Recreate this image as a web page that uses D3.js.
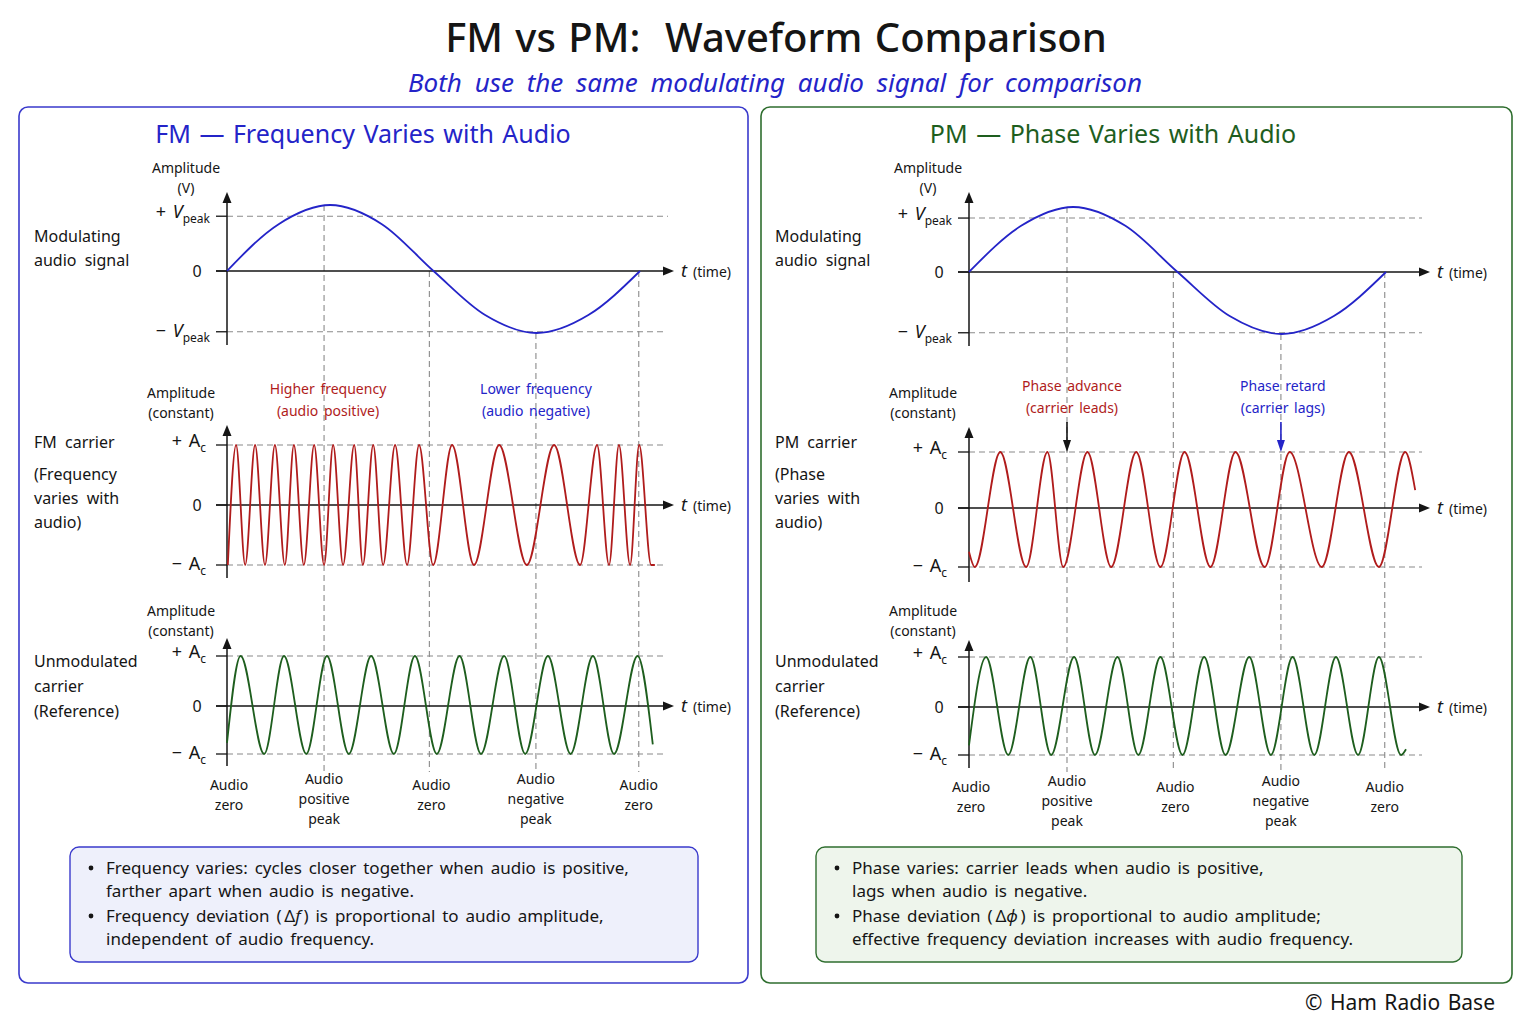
<!DOCTYPE html>
<html>
<head>
<meta charset="utf-8">
<script src="https://cdn.jsdelivr.net/npm/d3@7"></script>
<style>
  body { margin: 0; background: #fff; }
  svg { font-family: "Noto Sans", "Open Sans", sans-serif; word-spacing: 2px; }
</style>
</head>
<body>
<svg id="chart" width="1536" height="1024"></svg>
<script>
// ---- data (time in audio periods, values in units of peak amplitude) ----
const audioT = [0, 0.125, 0.25, 0.375, 0.5, 0.625, 0.75, 0.875, 1];
const audioV = [0, 0.71, 1, 0.71, 0, -0.71, -1, -0.71, 0];
const peakGuides = [0.83, -0.98];

const markerT = [0.235, 0.49, 0.748, 0.997];
const markerV = [1, 0, -1, 0];
const bottomT = [0.005, 0.235, 0.495, 0.748, 0.997];
const bottomLabels = [
  ['Audio', 'zero'], ['Audio', 'positive', 'peak'], ['Audio', 'zero'],
  ['Audio', 'negative', 'peak'], ['Audio', 'zero']
];

// FM carrier extrema
const fmCarrierT = [0.002, 0.022, 0.044, 0.068, 0.092, 0.116, 0.140, 0.162, 0.186, 0.211,
  0.235, 0.257, 0.281, 0.308, 0.329, 0.354, 0.378, 0.407, 0.436, 0.465,
  0.499, 0.545, 0.598, 0.659, 0.726, 0.792, 0.855, 0.896, 0.925, 0.949,
  0.976, 0.998, 1.027, 1.036];
const fmCarrierV = [-1, 1, -1, 1, -1, 1, -1, 1, -1, 1,
  -1, 1, -1, 1, -1, 1, -1, 1, -1, 1,
  -1, 1, -1, 1, -1, 1, -1, 1, -1, 1,
  -1, 1, -1, -1];

const fmRefT = [0, 0.033, 0.090, 0.138, 0.192, 0.242, 0.295, 0.349, 0.404, 0.455, 0.508,
  0.563, 0.615, 0.671, 0.722, 0.777, 0.832, 0.886, 0.937, 0.994, 1.031];
const fmRefV = [-0.77, 1, -1, 1, -1, 1, -1, 1, -1, 1, -1,
  1, -1, 1, -1, 1, -1, 1, -1, 1, -0.8];

// PM carrier extrema
const pmCarrierT = [0, 0.014, 0.075, 0.137, 0.188, 0.226, 0.284, 0.341, 0.401, 0.459,
  0.517, 0.579, 0.639, 0.709, 0.769, 0.846, 0.911, 0.983, 1.046, 1.070];
const pmCarrierV = [-0.74, -1, 1, -1, 1, -1, 1, -1, 1, -1,
  1, -1, 1, -1, 1, -1, 1, -1, 1, 0.32];

const pmRefT = [0, 0.041, 0.094, 0.147, 0.197, 0.252, 0.302, 0.356, 0.406, 0.459, 0.512,
  0.564, 0.615, 0.672, 0.724, 0.776, 0.828, 0.880, 0.933, 0.983, 1.036, 1.048];
const pmRefV = [-0.8, 1, -1, 1, -1, 1, -1, 1, -1, 1, -1,
  1, -1, 1, -1, 1, -1, 1, -1, 1, -1, -0.88];

// bullet notes: [before symbol, symbol, after symbol] per line; plain lines are strings
const fmNotes = [
  ['Frequency varies: cycles closer together when audio is positive,', 'farther apart when audio is negative.'],
  [['Frequency deviation (\u2009\u0394', 'f', '\u2009) is proportional to audio amplitude,'], 'independent of audio frequency.']
];
const pmNotes = [
  ['Phase varies: carrier leads when audio is positive,', 'lags when audio is negative.'],
  [['Phase deviation (\u2009\u0394', '\u03d5', '\u2009) is proportional to audio amplitude;'], 'effective frequency deviation increases with audio frequency.']
];

// ---- colours ----
const BLUE = '#2424c8', RED = '#b01c1c', GREEN = '#1e5e1e', INK = '#151515', GUIDE = '#8a8a8a';

const svg = d3.select('#chart');

svg.append('text').attr('x', 776).attr('y', 52).attr('text-anchor', 'middle')
  .attr('font-size', 40).attr('fill', INK).attr('font-weight', 500)
  .text('FM vs PM:\u00a0 Waveform Comparison');
svg.append('text').attr('x', 775).attr('y', 92).attr('text-anchor', 'middle')
  .attr('font-size', 26).attr('font-style', 'italic').attr('fill', BLUE).attr('word-spacing', 6)
  .text('Both use the same modulating audio signal for comparison');
svg.append('text').attr('x', 1495).attr('y', 1010).attr('text-anchor', 'end')
  .attr('font-size', 21).attr('fill', INK).text('\u00a9 Ham Radio Base');

const line = (x, y) => d3.line().x(d => x(d[0])).y(d => y(d[1])).curve(d3.curveMonotoneX);

function tickLabel(g, x, y, sign, letter, sub, italic) {
  const t = g.append('text').attr('x', x).attr('y', y + 6).attr('text-anchor', 'end')
    .attr('font-size', 18).attr('fill', INK);
  t.append('tspan').text(sign + '\u00a0');
  t.append('tspan').attr('font-style', italic ? 'italic' : 'normal').text(letter);
  t.append('tspan').attr('font-size', 12).attr('dy', 5).text(sub);
}

function drawPanel(p) {
  const g = svg.append('g');
  g.append('rect').attr('x', p.left).attr('y', 107).attr('width', p.right - p.left).attr('height', 876)
    .attr('rx', 9).attr('fill', '#fff').attr('stroke', p.border).attr('stroke-width', 1.6);
  g.append('text').attr('x', p.titleX).attr('y', 143).attr('text-anchor', 'middle')
    .attr('font-size', 25).attr('fill', p.titleColor).text(p.title);

  const x = d3.scaleLinear().domain([0, 1]).range([p.x0, p.x1]);

  // vertical markers
  const yTop = d3.scaleLinear().domain([-1, 0, 1]).range(p.rows[0].yr);
  g.selectAll('.marker').data(markerT).join('line')
    .attr('x1', d => x(d)).attr('x2', d => x(d))
    .attr('y1', (d, i) => yTop(markerV[i])).attr('y2', 772)
    .attr('stroke', GUIDE).attr('stroke-width', 1.1).attr('stroke-dasharray', '6,4');

  p.rows.forEach(r => {
    const y = d3.scaleLinear().domain([-1, 0, 1]).range(r.yr);
    const levels = r.guides;
    // guides
    g.selectAll(null).data(levels).join('line')
      .attr('x1', p.x0).attr('x2', (d, i) => i === 0 ? r.guideEnd0 || p.guideEnd : p.guideEnd)
      .attr('y1', d => y(d)).attr('y2', d => y(d))
      .attr('stroke', GUIDE).attr('stroke-width', 1.1).attr('stroke-dasharray', '6,4');
    // ticks
    [levels[0], 0, levels[1]].forEach(v => {
      g.append('line').attr('x1', p.x0 - 11).attr('x2', p.x0).attr('y1', y(v)).attr('y2', y(v))
        .attr('stroke', INK).attr('stroke-width', 1.3);
    });
    // x axis with arrow
    const y0 = y(0);
    g.append('line').attr('x1', p.x0 - 11).attr('x2', p.axisEnd - 8).attr('y1', y0).attr('y2', y0)
      .attr('stroke', INK).attr('stroke-width', 1.5);
    g.append('path').attr('d', `M${p.axisEnd},${y0}L${p.axisEnd - 11},${y0 - 4.5}L${p.axisEnd - 11},${y0 + 4.5}Z`)
      .attr('fill', INK);
    const tl = g.append('text').attr('x', p.axisEnd + 7).attr('y', y0 + 6).attr('fill', INK);
    tl.append('tspan').attr('font-size', 18).attr('font-style', 'italic').text('t');
    tl.append('tspan').attr('font-size', 14).attr('dx', 6).text('(time)');
    // y axis with arrow
    g.append('line').attr('x1', p.x0).attr('x2', p.x0).attr('y1', r.axisBottom).attr('y2', r.axisTop + 8)
      .attr('stroke', INK).attr('stroke-width', 1.5);
    g.append('path').attr('d', `M${p.x0},${r.axisTop}L${p.x0 - 4.5},${r.axisTop + 11}L${p.x0 + 4.5},${r.axisTop + 11}Z`)
      .attr('fill', INK);
    // amplitude label
    r.ampLabel.forEach((s, i) => {
      g.append('text').attr('x', p.x0 + r.ampDx).attr('y', r.ampY + i * 20).attr('text-anchor', 'middle')
        .attr('font-size', 14).attr('fill', INK).text(s);
    });
    tickLabel(g, p.x0 + r.tickDx, y(levels[0]) - 4, '+', r.letter, r.sub, r.italic);
    g.append('text').attr('x', p.x0 - 30).attr('y', y0 + 6).attr('text-anchor', 'middle')
      .attr('font-size', 16).attr('fill', INK).text('0');
    tickLabel(g, p.x0 + r.tickDx, y(levels[1]) - 1, '\u2212', r.letter, r.sub, r.italic);
    // row labels
    r.rowLabel.forEach((s, i) => {
      g.append('text').attr('x', p.rowLabelX).attr('y', r.rowY[i] + 6).attr('word-spacing', 4)
        .attr('font-size', 16).attr('fill', INK).text(s);
    });
    // waveform
    g.append('path').datum(d3.zip(r.t, r.v)).attr('d', line(x, y))
      .attr('fill', 'none').attr('stroke', r.color).attr('stroke-width', 1.8);
  });

  // bottom labels
  bottomT.forEach((t, i) => {
    const lines = bottomLabels[i];
    const base = lines.length === 3 ? 784 : 790;
    lines.forEach((s, j) => {
      g.append('text').attr('x', x(t)).attr('y', base + p.bottomDy + j * 20).attr('text-anchor', 'middle')
        .attr('font-size', 14).attr('fill', INK).text(s);
    });
  });

  // annotations
  p.notes2.forEach(a => {
    a.text.forEach((s, j) => {
      g.append('text').attr('x', x(a.t) + a.dx).attr('y', a.y + j * 22).attr('text-anchor', 'middle')
        .attr('font-size', 14).attr('fill', a.color).text(s);
    });
    if (a.arrow) {
      const ax = x(a.arrowT);
      g.append('line').attr('x1', ax).attr('x2', ax).attr('y1', 422).attr('y2', 442)
        .attr('stroke', a.arrow).attr('stroke-width', 1.6);
      g.append('path').attr('d', `M${ax},${452}L${ax - 4},${440}L${ax + 4},${440}Z`).attr('fill', a.arrow);
    }
  });

  // notes box
  const b = p.box;
  g.append('rect').attr('x', b.x).attr('y', 847).attr('width', b.w).attr('height', 115).attr('rx', 9)
    .attr('fill', b.fill).attr('stroke', p.border).attr('stroke-width', 1.4);
  p.bullets.forEach((item, i) => {
    const yb = 874 + i * 48;
    g.append('circle').attr('cx', b.x + 21).attr('cy', yb - 6).attr('r', 2.4).attr('fill', INK);
    item.forEach((s, j) => {
      const t = g.append('text').attr('x', b.x + 36).attr('y', yb + j * 23).attr('font-size', 17)
        .attr('fill', INK).attr('word-spacing', 2.5);
      if (Array.isArray(s)) {
        t.append('tspan').text(s[0]);
        t.append('tspan').attr('font-style', 'italic').text(s[1]);
        t.append('tspan').text(s[2]);
      } else {
        t.text(s);
      }
    });
  });
}

const topRow = (yr, axisTop, axisBottom, t, v) => ({
  yr, axisTop, axisBottom, t, v, color: BLUE, guides: peakGuides,
  letter: 'V', sub: 'peak', italic: true, tickDx: -17, ampDx: -41, ampY: 173,
  ampLabel: ['Amplitude', '(V)'], rowLabel: ['Modulating', 'audio signal'], rowY: [236, 260]
});

drawPanel({
  left: 19, right: 748, x0: 227, x1: 640, axisEnd: 674, guideEnd: 664,
  border: '#3a3acc', title: 'FM \u2014 Frequency Varies with Audio', titleX: 363, titleColor: BLUE,
  rowLabelX: 34, bottomDy: 0,
  rows: [
    Object.assign(topRow([333, 271, 205], 192, 345, audioT, audioV), { guideEnd0: 668 }),
    { yr: [565, 505, 445], axisTop: 425, axisBottom: 578, t: fmCarrierT, v: fmCarrierV, color: RED,
      guides: [1, -1], letter: 'A', sub: 'c', italic: false, tickDx: -21, ampDx: -46, ampY: 398,
      ampLabel: ['Amplitude', '(constant)'],
      rowLabel: ['FM carrier', '(Frequency', 'varies with', 'audio)'], rowY: [442, 474, 498, 522] },
    { yr: [754, 706, 656], axisTop: 638, axisBottom: 766, t: fmRefT, v: fmRefV, color: GREEN,
      guides: [1, -1], letter: 'A', sub: 'c', italic: false, tickDx: -21, ampDx: -46, ampY: 616,
      ampLabel: ['Amplitude', '(constant)'],
      rowLabel: ['Unmodulated', 'carrier', '(Reference)'], rowY: [661, 686, 711] }
  ],
  notes2: [
    { t: markerT[0], dx: 4, y: 394, color: RED, text: ['Higher frequency', '(audio positive)'] },
    { t: markerT[2], dx: 0, y: 394, color: BLUE, text: ['Lower frequency', '(audio negative)'] }
  ],
  box: { x: 70, w: 628, fill: '#eef0fb' }, bullets: fmNotes
});

drawPanel({
  left: 761, right: 1512, x0: 969, x1: 1386, axisEnd: 1430, guideEnd: 1422,
  border: '#2f6e2f', title: 'PM \u2014 Phase Varies with Audio', titleX: 1113, titleColor: GREEN,
  rowLabelX: 775, bottomDy: 2,
  rows: [
    topRow([334, 272, 207], 192, 346, audioT, audioV),
    { yr: [567, 508, 452], axisTop: 427, axisBottom: 582, t: pmCarrierT, v: pmCarrierV, color: RED,
      guides: [1, -1], letter: 'A', sub: 'c', italic: false, tickDx: -22, ampDx: -46, ampY: 398,
      ampLabel: ['Amplitude', '(constant)'],
      rowLabel: ['PM carrier', '(Phase', 'varies with', 'audio)'], rowY: [442, 474, 498, 522] },
    { yr: [755, 707, 657], axisTop: 640, axisBottom: 768, t: pmRefT, v: pmRefV, color: GREEN,
      guides: [1, -1], letter: 'A', sub: 'c', italic: false, tickDx: -22, ampDx: -46, ampY: 616,
      ampLabel: ['Amplitude', '(constant)'],
      rowLabel: ['Unmodulated', 'carrier', '(Reference)'], rowY: [661, 686, 711] }
  ],
  notes2: [
    { t: markerT[0], dx: 5, y: 391, color: RED, text: ['Phase advance', '(carrier leads)'], arrow: INK, arrowT: markerT[0] },
    { t: markerT[2], dx: 2, y: 391, color: BLUE, text: ['Phase retard', '(carrier lags)'], arrow: BLUE, arrowT: markerT[2] }
  ],
  box: { x: 816, w: 646, fill: '#eef5ec' }, bullets: pmNotes
});
</script>
</body>
</html>
